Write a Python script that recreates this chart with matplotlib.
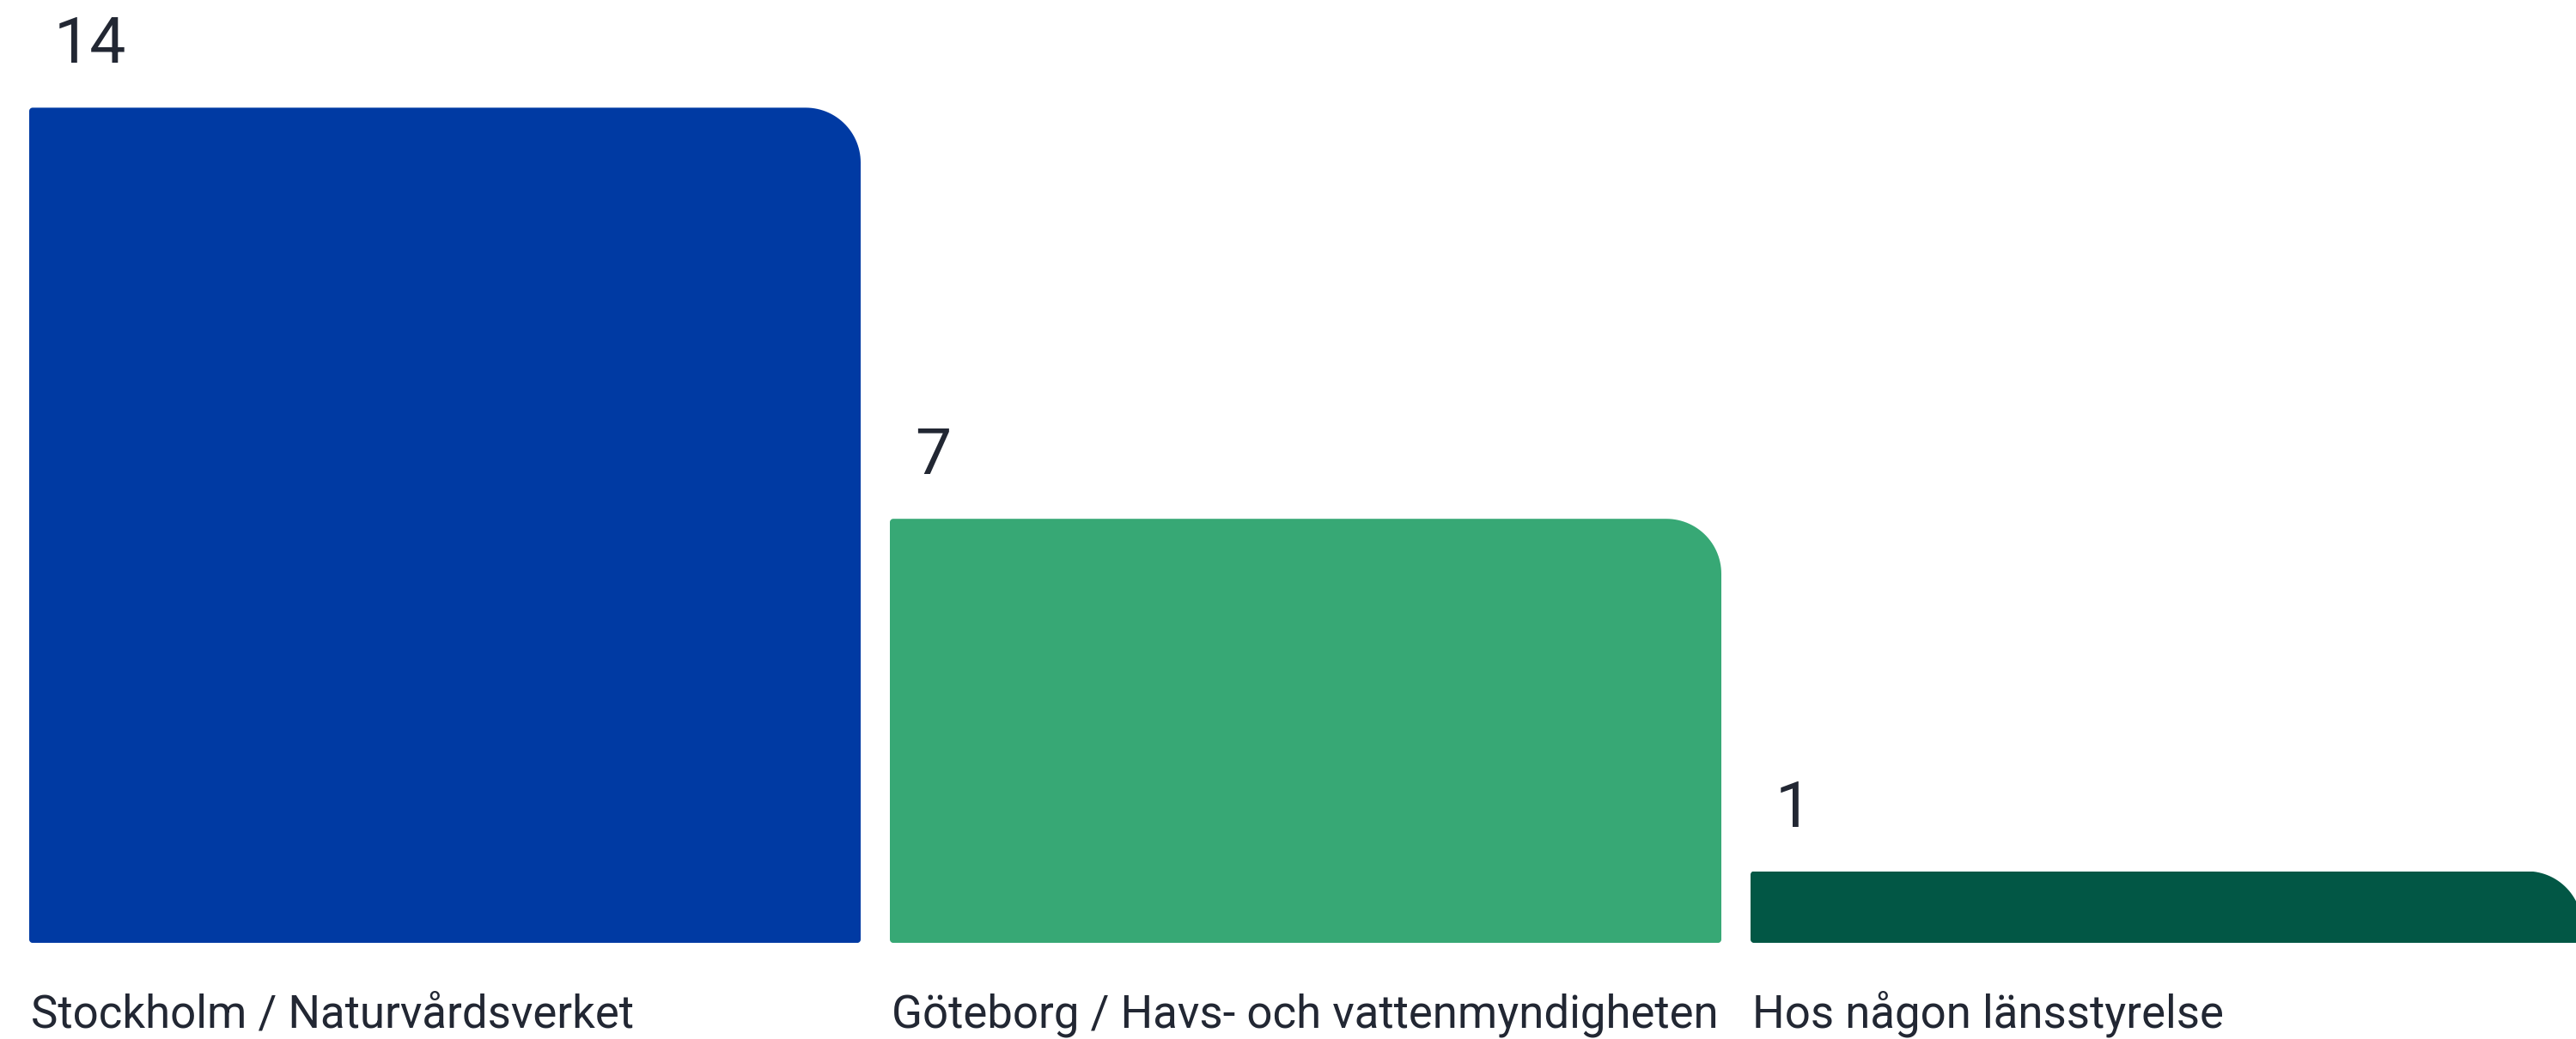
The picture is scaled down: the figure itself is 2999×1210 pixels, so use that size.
import matplotlib
matplotlib.use("Agg")
import matplotlib.pyplot as plt
import numpy as np
from matplotlib.path import Path
from matplotlib.patches import PathPatch

# data
categories = ["Stockholm / Naturvårdsverket",
              "Göteborg / Havs- och vattenmyndigheten",
              "Hos någon länsstyrelse"]
values = [14, 7, 1]
colors = ["#003aa3", "#37a875", "#025745"]

text_color = "#222733"
base = -0.22          # bars start slightly below zero
px_x = 1002.0         # pixels per x unit
px_y = 68.4           # pixels per y unit


def rounded_path(x0, y0, w, h, r_big, r_small):
    """bar outline with a big top-right corner and small other corners"""
    def arc(cx, cy, rx, ry, a0, a1):
        t = np.linspace(a0, a1, 30)
        return list(zip(cx + rx * np.cos(t), cy + ry * np.sin(t)))

    bx, by = r_big / px_x, r_big / px_y
    sx, sy = r_small / px_x, r_small / px_y
    x1, y1 = x0 + w, y0 + h
    pts = []
    pts += arc(x0 + sx, y0 + sy, sx, sy, np.pi, 1.5 * np.pi)
    pts += arc(x1 - sx, y0 + sy, sx, sy, 1.5 * np.pi, 2 * np.pi)
    pts += arc(x1 - bx, y1 - by, bx, by, 0, 0.5 * np.pi)
    pts += arc(x0 + sx, y1 - sy, sx, sy, 0.5 * np.pi, np.pi)
    pts.append(pts[0])
    return Path(pts, closed=True)


fig = plt.figure(figsize=(29.99, 12.10), dpi=100)
ax = fig.add_axes([0, 0, 1, 1])
ax.set_xlim(-518 / px_x, (2999 - 518) / px_x)
ax.set_ylim(-(1210 - 1083) / px_y, 1083 / px_y)
ax.axis("off")

x = np.arange(len(values))
heights = [v - base for v in values]
bars = ax.bar(x, heights, bottom=base, width=968 / px_x, color=colors)

for bar, val, cat in zip(bars, values, categories):
    clip = PathPatch(rounded_path(bar.get_x(), bar.get_y(), bar.get_width(),
                                  bar.get_height(), 64, 4),
                     transform=ax.transData, facecolor="none", edgecolor="none")
    ax.add_patch(clip)
    bar.set_clip_path(clip)
    ax.annotate(str(val), xy=(bar.get_x(), val), xytext=(29, 52),
                textcoords="offset pixels", va="baseline", ha="left",
                fontsize=54, family="Roboto", color=text_color)
    ax.annotate(cat, xy=(bar.get_x(), base), xytext=(2, -98),
                textcoords="offset pixels", va="baseline", ha="left",
                fontsize=38, family="Roboto", color=text_color)

fig.savefig("out.png", dpi=100)
